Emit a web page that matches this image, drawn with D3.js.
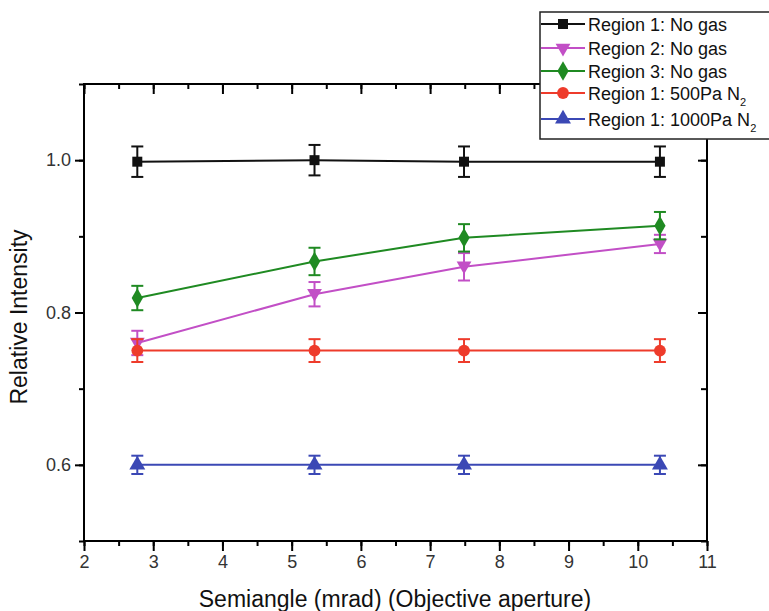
<!DOCTYPE html>
<html><head><meta charset="utf-8">
<script src="https://cdn.jsdelivr.net/npm/d3@7/dist/d3.min.js"></script>
<style>body{margin:0;background:#fff}svg{display:block}text{font-family:"Liberation Sans",Arial,sans-serif}</style>
</head><body>
<svg id="c" width="769" height="611"></svg>
<script>
const xValues = [2.77, 5.33, 7.49, 10.32];
const region1NoGas = [0.998, 1.0, 0.998, 0.998];
const region1NoGasErr = [0.02, 0.02, 0.02, 0.02];
const region2NoGas = [0.760, 0.824, 0.860, 0.890];
const region2NoGasErr = [0.016, 0.016, 0.018, 0.012];
const region3NoGas = [0.819, 0.867, 0.898, 0.914];
const region3NoGasErr = [0.016, 0.018, 0.018, 0.018];
const region1N500 = [0.75, 0.75, 0.75, 0.75];
const region1N500Err = [0.015, 0.015, 0.015, 0.015];
const region1N1000 = [0.60, 0.60, 0.60, 0.60];
const region1N1000Err = [0.012, 0.012, 0.012, 0.012];
const xTicks = [2, 3, 4, 5, 6, 7, 8, 9, 10, 11];
const yTicks = [0.6, 0.8, 1.0];
const seriesNames = ["Region 1: No gas", "Region 2: No gas", "Region 3: No gas", "Region 1: 500Pa N", "Region 1: 1000Pa N"];

const series = [
  {name: seriesNames[0], y: region1NoGas, e: region1NoGasErr, color: "#111111", sym: d3.symbolSquare, size: 100, rot: 0},
  {name: seriesNames[1], y: region2NoGas, e: region2NoGasErr, color: "#c24fc6", sym: d3.symbolTriangle, size: 95, rot: 180},
  {name: seriesNames[2], y: region3NoGas, e: region3NoGasErr, color: "#1f8a22", sym: d3.symbolDiamond, size: 110, rot: 0},
  {name: seriesNames[3], y: region1N500, e: region1N500Err, color: "#ee3b2b", sym: d3.symbolCircle, size: 110, rot: 0, sub: "2"},
  {name: seriesNames[4], y: region1N1000, e: region1N1000Err, color: "#3b48b5", sym: d3.symbolTriangle, size: 110, rot: 0, sub: "2"}
];

const svg = d3.select("#c");
const L = 84, R = 707, T = 84, B = 541;
const x = d3.scaleLinear().domain([2, 11]).range([L, R]);
const y = d3.scaleLinear().domain([0.5, 1.1]).range([B, T]);

svg.append("rect").attr("x", L).attr("y", T).attr("width", R - L).attr("height", B - T)
  .attr("fill", "none").attr("stroke", "#000").attr("stroke-width", 2);

const minorX = d3.range(2, 11.01, 0.5);
const minorY = d3.range(0.5, 1.101, 0.1).map(v => +v.toFixed(2));

svg.append("g").attr("transform", `translate(0,${B})`)
  .call(d3.axisBottom(x).tickValues(xTicks).tickFormat(d3.format("d")).tickSize(10).tickPadding(4));
svg.append("g").attr("transform", `translate(0,${B})`)
  .call(d3.axisBottom(x).tickValues(minorX).tickFormat("").tickSize(5));
svg.append("g").attr("transform", `translate(${L},0)`)
  .call(d3.axisLeft(y).tickValues(yTicks).tickFormat(d3.format(".1f")).tickSize(9).tickPadding(4));
svg.append("g").attr("transform", `translate(${L},0)`)
  .call(d3.axisLeft(y).tickValues(minorY).tickFormat("").tickSize(5));
svg.append("g").attr("transform", `translate(0,${T})`)
  .call(d3.axisTop(x).tickValues(xTicks).tickFormat("").tickSize(-10));
svg.append("g").attr("transform", `translate(0,${T})`)
  .call(d3.axisTop(x).tickValues(minorX).tickFormat("").tickSize(-5));
svg.append("g").attr("transform", `translate(${R},0)`)
  .call(d3.axisRight(y).tickValues(yTicks).tickFormat("").tickSize(-9));
svg.append("g").attr("transform", `translate(${R},0)`)
  .call(d3.axisRight(y).tickValues(minorY).tickFormat("").tickSize(-6));

svg.selectAll(".domain").remove();
svg.selectAll(".tick line").attr("stroke", "#000").attr("stroke-width", 2);
svg.selectAll(".tick text").attr("fill", "#333").style("font-size", "18px")
  .style("font-family", "'Liberation Sans', Arial, sans-serif");

const line = d3.line().x(d => x(d[0])).y(d => y(d[1]));
series.forEach(s => {
  const pts = xValues.map((xv, i) => [xv, s.y[i], s.e[i]]);
  const g = svg.append("g");
  g.append("path").datum(pts).attr("d", line).attr("fill", "none")
    .attr("stroke", s.color).attr("stroke-width", 2);
  pts.forEach(p => {
    const cx = x(p[0]);
    g.append("line").attr("x1", cx).attr("x2", cx).attr("y1", y(p[1] - p[2])).attr("y2", y(p[1] + p[2]))
      .attr("stroke", s.color).attr("stroke-width", 2);
    [p[1] - p[2], p[1] + p[2]].forEach(v => {
      g.append("line").attr("x1", cx - 6).attr("x2", cx + 6).attr("y1", y(v)).attr("y2", y(v))
        .attr("stroke", s.color).attr("stroke-width", 2);
    });
    g.append("path").attr("d", d3.symbol().type(s.sym).size(s.size)())
      .attr("transform", `translate(${cx},${y(p[1]) + (s.rot ? -1 : 0)}) rotate(${s.rot})`)
      .attr("fill", s.color);
  });
});

const lg = svg.append("g");
lg.append("rect").attr("x", 540).attr("y", 12).attr("width", 240).attr("height", 127)
  .attr("fill", "#fff").attr("stroke", "#222").attr("stroke-width", 1.5);
const ly = [24, 48, 71, 93, 119];
series.forEach((s, i) => {
  const yy = ly[i];
  lg.append("line").attr("x1", 541).attr("x2", 585).attr("y1", yy).attr("y2", yy)
    .attr("stroke", s.color).attr("stroke-width", 2);
  lg.append("path").attr("d", d3.symbol().type(s.sym).size(s.size)())
    .attr("transform", `translate(563,${yy}) rotate(${s.rot})`).attr("fill", s.color);
  const t = lg.append("text").attr("x", 588).attr("y", yy + 6.5).attr("fill", "#111")
    .style("font-size", "18px").text(s.name);
  if (s.sub) t.append("tspan").attr("dy", 6).style("font-size", "11px").text(s.sub);
});

svg.append("text").attr("x", 395).attr("y", 607).attr("text-anchor", "middle")
  .style("font-size", "23px").attr("fill", "#111").text("Semiangle (mrad) (Objective aperture)");
svg.append("text").attr("transform", "translate(27,317) rotate(-90)").attr("text-anchor", "middle")
  .style("font-size", "23px").attr("fill", "#111").text("Relative Intensity");
</script>
</body></html>
